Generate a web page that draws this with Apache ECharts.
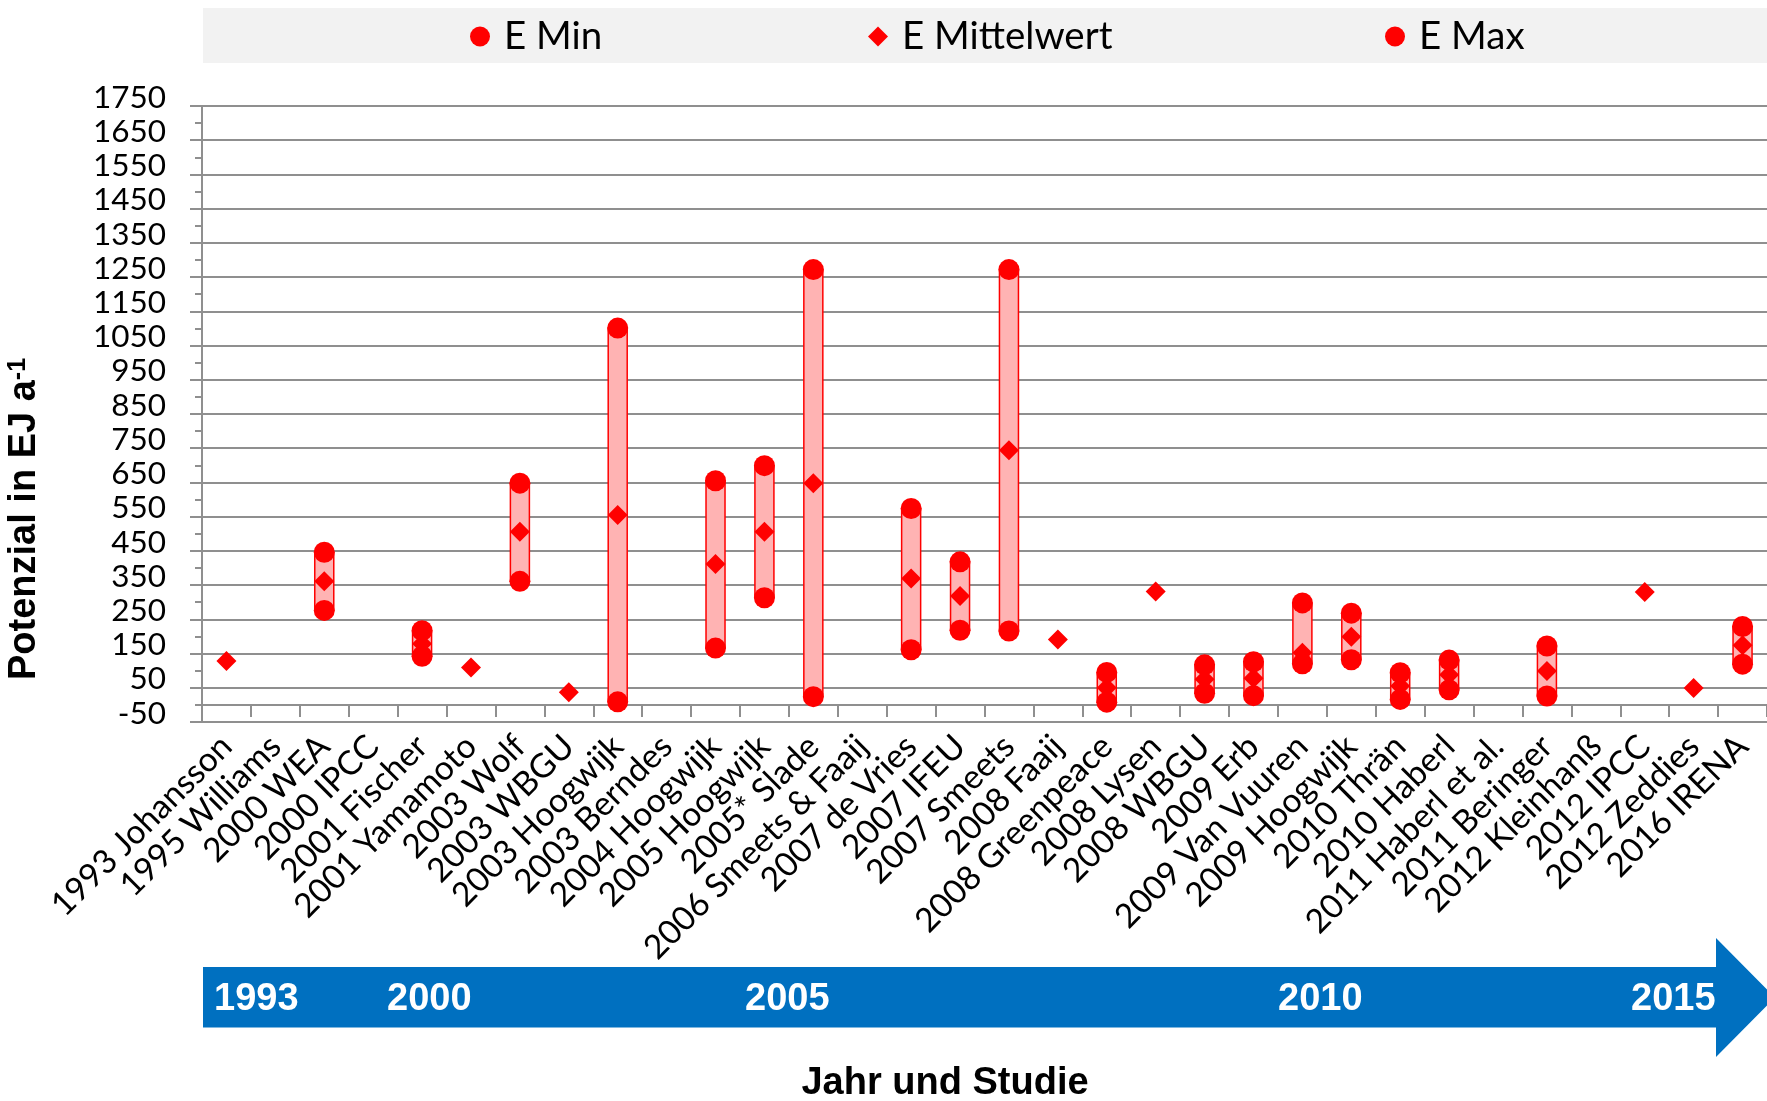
<!DOCTYPE html>
<html>
<head>
<meta charset="utf-8">
<title>Bioenergiepotenziale</title>
<script src="https://cdn.jsdelivr.net/npm/echarts@6/dist/echarts.min.js"></script>
<style>
  html, body { margin: 0; padding: 0; background: #ffffff; }
  #chart { width: 1767px; height: 1101px; }
</style>
</head>
<body>
<div id="chart"></div>
<script>
// Studies (year + author), one category each
const studies = [
  '1993 Johansson', '1995 Williams', '2000 WEA', '2000 IPCC', '2001 Fischer',
  '2001 Yamamoto', '2003 Wolf', '2003 WBGU', '2003 Hoogwijk', '2003 Berndes',
  '2004 Hoogwijk', '2005 Hoogwijk', '2005* Slade', '2006 Smeets & Faaij',
  '2007 de Vries', '2007 IFEU', '2007 Smeets', '2008 Faaij', '2008 Greenpeace',
  '2008 Lysen', '2008 WBGU', '2009 Erb', '2009 Van Vuuren', '2009 Hoogwijk',
  '2010 Thrän', '2010 Haberl', '2011 Haberl et al.', '2011 Beringer',
  '2012 Kleinhanß', '2012 IPCC', '2012 Zeddies', '2016 IRENA'
];

// Potential in EJ per year (null = no value given)
const eMin = [
  null, null, 276, null, 142, null, 361, null, 9, null,
  166, 313, 24, null, 161, 218, 216, null, 8, null,
  34, 27, 120, 132, 16, 44, null, 26, null, null, null, 119
];
const eMean = [
  128, null, 361, null, 179, 109, 506, 37, 555, null,
  412, 506, 648, null, 369, 318, 744, 191, 50, 331,
  75, 78, 152, 199, 55, 88, null, 99, null, 330, 49, 174
];
const eMax = [
  null, null, 446, null, 217, null, 648, null, 1101, null,
  655, 699, 1272, null, 574, 418, 1272, null, 95, null,
  117, 126, 298, 268, 94, 131, null, 172, null, null, null, 229
];

// Value axis range and tick step
const yMin = -50;
const yMax = 1750;
const yStep = 100;

// Timeline years shown in the arrow below the chart
const timelineYears = ['1993', '2000', '2005', '2010', '2015'];
const timelineX = [214, 387, 745, 1278, 1631];

const seriesNames = ['E Min', 'E Mittelwert', 'E Max'];

const toPoints = arr => arr.map((v, i) => (v == null ? null : [i, v])).filter(Boolean);
const rangeData = [];
eMin.forEach((lo, i) => {
  if (lo != null && eMax[i] != null) rangeData.push([i, lo, eMax[i]]);
});

const RED = '#ff0000';
const GRID = '#8f8f8f';
const labelFont = 'Lato, Carlito, Calibri, "Open Sans", sans-serif';
const boldFont = '"Liberation Sans", Arial, sans-serif';

const legendCommon = {
  orient: 'horizontal',
  top: 17,
  padding: 0,
  itemWidth: 20,
  itemHeight: 20,
  selectedMode: false,
  z: 10,
  textStyle: { fontFamily: labelFont, fontSize: 38.5, color: '#000', padding: [0, 0, 0, 9] }
};

const chart = echarts.init(document.getElementById('chart'), null, { renderer: 'canvas' });

chart.setOption({
  animation: false,
  backgroundColor: '#ffffff',
  grid: { left: 202, right: 0, top: 106, bottom: 379, containLabel: false },
  legend: [
    Object.assign({ data: [{ name: seriesNames[0], icon: 'circle' }], left: 470 }, legendCommon),
    Object.assign({ data: [{ name: seriesNames[1], icon: 'diamond' }], left: 868 }, legendCommon),
    Object.assign({ data: [{ name: seriesNames[2], icon: 'circle' }], left: 1385 }, legendCommon)
  ],
  xAxis: {
    type: 'category',
    data: studies,
    boundaryGap: true,
    axisLine: { show: true, onZero: true, lineStyle: { color: GRID, width: 2 } },
    axisTick: { show: true, interval: 0, length: 12, lineStyle: { color: GRID, width: 2 } },
    axisLabel: {
      interval: 0,
      rotate: 45,
      align: 'right',
      verticalAlign: 'middle',
      margin: 19,
      fontFamily: labelFont,
      fontSize: 33.5,
      color: '#000'
    },
    splitLine: { show: false }
  },
  yAxis: {
    type: 'value',
    min: yMin,
    max: yMax,
    interval: yStep,
    axisLine: { show: true, lineStyle: { color: GRID, width: 2 } },
    axisTick: { show: true, length: 12, lineStyle: { color: GRID, width: 2 } },
    minorTick: { show: true, splitNumber: 2, length: 7, lineStyle: { color: GRID, width: 2 } },
    axisLabel: {
      margin: 36,
      fontFamily: labelFont,
      fontSize: 31.5,
      color: '#000',
      verticalAlign: 'bottom',
      lineHeight: 17,
      formatter: v => String(v)
    },
    splitLine: { show: true, lineStyle: { color: GRID, width: 2 } }
  },
  series: [
    {
      name: 'Spanne',
      type: 'custom',
      z: 1,
      data: rangeData,
      encode: { x: 0, y: [1, 2] },
      renderItem: function (params, api) {
        const lo = api.coord([api.value(0), api.value(1)]);
        const hi = api.coord([api.value(0), api.value(2)]);
        return {
          type: 'rect',
          shape: { x: lo[0] - 9.5, y: hi[1], width: 19, height: lo[1] - hi[1] },
          style: { fill: '#ffb3b3', stroke: RED, lineWidth: 1.5 }
        };
      }
    },
    {
      name: seriesNames[0],
      type: 'scatter',
      symbol: 'circle',
      symbolSize: 21,
      z: 3,
      itemStyle: { color: RED, opacity: 1 },
      data: toPoints(eMin)
    },
    {
      name: seriesNames[1],
      type: 'scatter',
      symbol: 'diamond',
      symbolSize: 20,
      z: 2,
      itemStyle: { color: RED, opacity: 1 },
      data: toPoints(eMean)
    },
    {
      name: seriesNames[2],
      type: 'scatter',
      symbol: 'circle',
      symbolSize: 21,
      z: 3,
      itemStyle: { color: RED, opacity: 1 },
      data: toPoints(eMax)
    }
  ],
  graphic: {
    elements: [
      // legend band
      {
        type: 'rect', z: 0, silent: true,
        shape: { x: 203, y: 8, width: 1564, height: 55 },
        style: { fill: '#f2f2f2' }
      },
      // axis title (vertical)
      {
        type: 'text', z: 5, silent: true,
        x: 25, y: 519, rotation: Math.PI / 2,
        style: {
          text: 'Potenzial in EJ a{sup|-1}',
          font: 'bold 38px ' + boldFont,
          fill: '#000',
          align: 'center',
          verticalAlign: 'middle',
          rich: { sup: { font: 'bold 25px ' + boldFont, fill: '#000', verticalAlign: 'top' } }
        }
      },
      // timeline arrow
      {
        type: 'polygon', z: 0, silent: true,
        shape: { points: [[203, 967], [1716, 967], [1716, 938], [1775, 997.5], [1716, 1057], [1716, 1027.5], [203, 1027.5]] },
        style: { fill: '#0070c0' }
      }
    ].concat(timelineYears.map((yr, i) => ({
      type: 'text', z: 6, silent: true,
      x: timelineX[i], y: 1000,
      style: { text: yr, font: 'bold 38px ' + boldFont, fill: '#ffffff', align: 'left', verticalAlign: 'middle' }
    }))).concat([
      {
        type: 'text', z: 6, silent: true,
        x: 945, y: 1084,
        style: { text: 'Jahr und Studie', font: 'bold 38px ' + boldFont, fill: '#000', align: 'center', verticalAlign: 'middle' }
      }
    ])
  }
});
</script>
</body>
</html>
